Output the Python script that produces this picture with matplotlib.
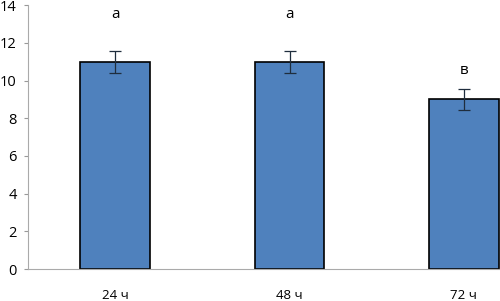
import matplotlib.pyplot as plt
import numpy as np

cats = ["24 ч", "48 ч", "72 ч"]
vals = [11.0, 11.0, 9.0]
errs = [0.58, 0.58, 0.55]
letters = ["а", "а", "в"]
letter_gap = [2.5, 2.5, 1.55]

plt.rcParams["font.family"] = ["Open Sans", "DejaVu Sans"]

fig = plt.figure(figsize=(5.0, 3.01), dpi=100)
ax = fig.add_axes([0.056, 0.106, 1.046, 0.877])
x = np.arange(len(cats))
ax.bar(x, vals, width=0.4, color="#4F81BD", edgecolor="black", linewidth=1.2, zorder=2)
ax.errorbar(x, vals, yerr=errs, fmt="none", ecolor="#1f2d3d", elinewidth=0.9,
            capsize=4, capthick=0.9, zorder=3)
for xi, v, g, t in zip(x, vals, letter_gap, letters):
    ax.text(xi, v + g, t, ha="center", va="center", fontsize=11)

ax.set_xlim(-0.5, 2.5)
ax.set_ylim(0, 14)
ax.set_yticks(range(0, 15, 2))
ax.set_xticks(x)
ax.set_xticklabels(cats, fontsize=9.5)
ax.tick_params(axis="y", labelsize=10.5, color="#999999", length=3, pad=5)
ax.tick_params(axis="x", length=0, pad=14)
for s in ["top", "right"]:
    ax.spines[s].set_visible(False)
ax.spines["left"].set_color("#aaaaaa")
ax.spines["bottom"].set_color("#aaaaaa")

fig.savefig("out.png", dpi=100)
